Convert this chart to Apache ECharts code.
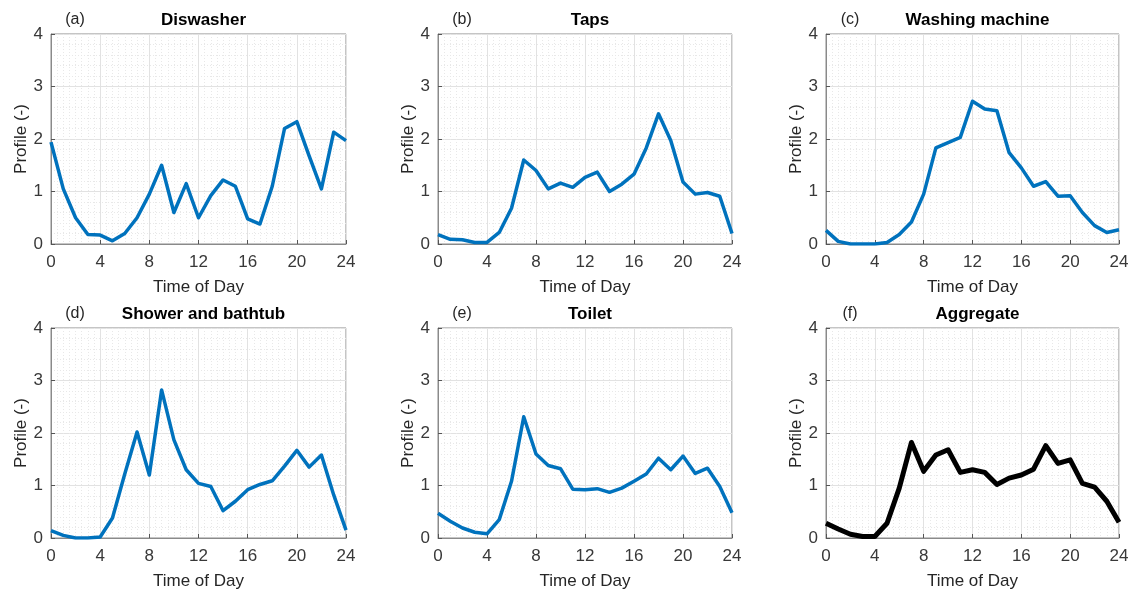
<!DOCTYPE html>
<html>
<head>
<meta charset="utf-8">
<script src="https://cdn.jsdelivr.net/npm/echarts@6/dist/echarts.min.js"></script>
<style>
html,body{margin:0;padding:0;background:#fff;}
#chart{width:1135px;height:592px;}
</style>
</head>
<body>
<div id="chart"></div>
<script>
const hours = [0,1,2,3,4,5,6,7,8,9,10,11,12,13,14,15,16,17,18,19,20,21,22,23,24];
const xTicks = [0,4,8,12,16,20,24];
const yTicks = [0,1,2,3,4];
const panelLetters = ['(a)','(b)','(c)','(d)','(e)','(f)'];
const panelTitles = ['Diswasher','Taps','Washing machine','Shower and bathtub','Toilet','Aggregate'];
const xLabel = 'Time of Day';
const yLabel = 'Profile (-)';

const dishwasher = [1.94,1.05,0.5,0.18,0.17,0.06,0.2,0.5,0.95,1.5,0.6,1.15,0.5,0.92,1.22,1.1,0.48,0.38,1.1,2.2,2.33,1.68,1.05,2.13,1.97];
const taps = [0.18,0.09,0.08,0.03,0.03,0.22,0.68,1.6,1.4,1.05,1.16,1.08,1.27,1.37,1.0,1.14,1.33,1.83,2.48,1.97,1.18,0.95,0.98,0.91,0.2];
const washingMachine = [0.26,0.05,0.0,0.0,0.0,0.03,0.18,0.42,0.95,1.83,1.93,2.03,2.72,2.57,2.54,1.74,1.45,1.1,1.19,0.91,0.92,0.6,0.35,0.22,0.27];
const shower = [0.14,0.05,0.0,0.0,0.02,0.38,1.22,2.02,1.2,2.82,1.87,1.3,1.04,0.98,0.52,0.7,0.92,1.02,1.09,1.37,1.67,1.35,1.58,0.82,0.15];
const toilet = [0.47,0.32,0.19,0.11,0.08,0.35,1.08,2.31,1.6,1.38,1.32,0.93,0.92,0.94,0.87,0.95,1.08,1.22,1.52,1.3,1.56,1.23,1.33,0.98,0.48];
const aggregate = [0.28,0.17,0.07,0.03,0.03,0.28,0.95,1.82,1.27,1.58,1.68,1.25,1.3,1.25,1.02,1.14,1.2,1.31,1.76,1.42,1.49,1.04,0.97,0.7,0.3];

const seriesData = [dishwasher, taps, washingMachine, shower, toilet, aggregate];
const lineColors = ['#0072BD','#0072BD','#0072BD','#0072BD','#0072BD','#000000'];
const lineWidths = [3.5,3.5,3.5,3.5,3.5,5];

const lefts = [51, 438, 826];
const widths = [295, 294, 293];
const tops = [34, 328];
const height = 210;

const FONT = 'Liberation Sans, Arial, sans-serif';
const grids = [], xAxes = [], yAxes = [], series = [], titles = [];
for (let i = 0; i < 6; i++) {
  const col = i % 3, row = Math.floor(i / 3);
  grids.push({left: lefts[col], top: tops[row], width: widths[col], height: height,
    show: true, borderColor: '#8a8a8a', borderWidth: 1, backgroundColor: '#fff'});
  xAxes.push({
    type: 'value', gridIndex: i, min: 0, max: 24, interval: 4,
    name: xLabel, nameLocation: 'middle', nameGap: 35,
    nameTextStyle: {fontFamily: FONT, fontSize: 17, color: '#262626'},
    axisLine: {show: true, onZero: false, lineStyle: {color: '#8a8a8a', width: 1}},
    axisTick: {show: true, inside: true, length: 4, lineStyle: {color: '#555'}},
    axisLabel: {fontFamily: FONT, fontSize: 17, color: '#383838', margin: 10},
    splitLine: {show: true, lineStyle: {color: '#e2e2e2', width: 1}},
    minorTick: {show: false, splitNumber: 8},
    minorSplitLine: {show: true, lineStyle: {color: '#e8e8e8', width: 1, type: [1, 2]}}
  });
  yAxes.push({
    type: 'value', gridIndex: i, min: 0, max: 4, interval: 1,
    name: yLabel, nameLocation: 'middle', nameGap: 21,
    nameTextStyle: {fontFamily: FONT, fontSize: 17, color: '#262626'},
    axisLine: {show: true, lineStyle: {color: '#8a8a8a', width: 1}},
    axisTick: {show: true, inside: true, length: 4, lineStyle: {color: '#555'}},
    axisLabel: {fontFamily: FONT, fontSize: 17, color: '#383838', margin: 8},
    splitLine: {show: true, lineStyle: {color: '#e2e2e2', width: 1}},
    minorTick: {show: false, splitNumber: 5},
    minorSplitLine: {show: true, lineStyle: {color: '#e8e8e8', width: 1, type: [1, 2]}}
  });
  series.push({
    type: 'line', xAxisIndex: i, yAxisIndex: i,
    data: hours.map((h, k) => [h, seriesData[i][k]]),
    showSymbol: false, symbol: 'none',
    lineStyle: {color: lineColors[i], width: lineWidths[i], join: 'round'},
    itemStyle: {color: lineColors[i]},
    animation: false, clip: true
  });
  const cx = lefts[col] + widths[col] / 2;
  titles.push({
    text: panelTitles[i], left: cx, top: tops[row] - 27, textAlign: 'center',
    textStyle: {fontFamily: FONT, fontSize: 17, fontWeight: 'bold', color: '#000'}
  });
  titles.push({
    text: panelLetters[i], left: lefts[col] + 19, top: tops[row] - 27, textAlign: 'center',
    textStyle: {fontFamily: FONT, fontSize: 16, fontWeight: 'normal', color: '#262626'}
  });
}

const chart = echarts.init(document.getElementById('chart'), null, {renderer: 'canvas'});
chart.setOption({
  backgroundColor: '#fff',
  animation: false,
  title: titles,
  grid: grids,
  xAxis: xAxes,
  yAxis: yAxes,
  series: series
});
</script>
</body>
</html>
